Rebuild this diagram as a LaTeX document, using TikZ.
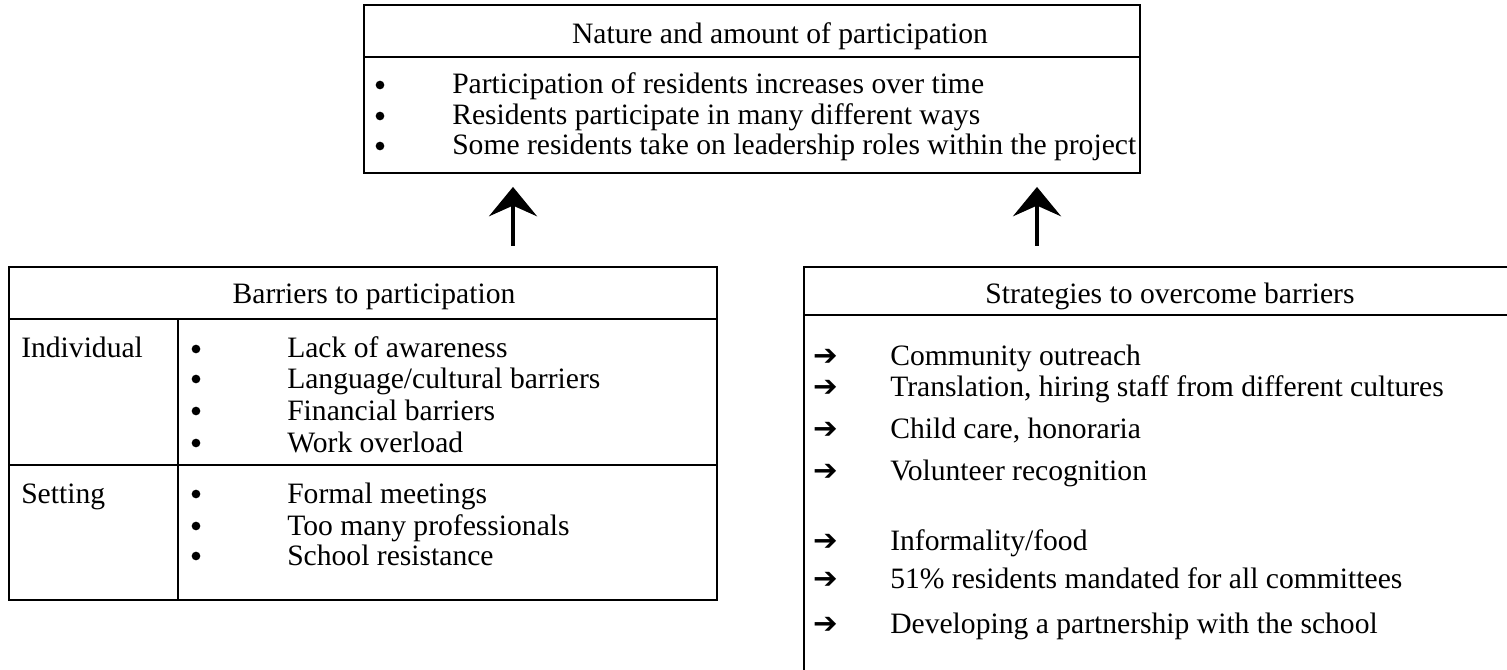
\documentclass[tikz,border=0pt]{standalone}
\usepackage{fontspec}
\setmainfont{Liberation Serif}
\newfontfamily\arrowfont{DejaVu Sans}
\usetikzlibrary{arrows.meta}

\begin{document}
\begin{tikzpicture}[x=0.75pt,y=-0.75pt,
        font=\fontsize{22.2}{26}\selectfont,
        frame/.style={draw,line width=1.2pt,anchor=north west,inner sep=0pt},
        rule/.style={line width=1.2pt},
        txt/.style={anchor=base west,inner sep=0pt},
        head/.style={anchor=base,inner sep=0pt},
        dot/.style={circle,fill,inner sep=0pt,minimum size=6.5pt},
        pointer/.style={anchor=base west,inner sep=0pt,
            font=\arrowfont\fontsize{22}{24}\selectfont},
        uparrow/.style={line width=3pt,shorten >=10pt,
            -{Stealth[length=22pt,width=36pt,inset=8pt]}}]
    % Page is fixed to the pixel frame (x and y are in px)
    \useasboundingbox (0,0) rectangle (1507,670);

    % Top box:
    \node [frame,minimum width=582pt,minimum height=126pt] (nature) at (363,4) {};
    \draw [rule] (363,57) -- (1139,57);
    \node [head] (nature-title) at (780,44) {Nature and amount of participation};
    \foreach \y/\t [count=\i] in {94/Participation of residents increases over time,
            125/Residents participate in many different ways,
            155/Some residents take on leadership roles within the project}{%
        \node [dot] (nature-bul-\i) at (380,\y-9) {};
        \node [txt] (nature-item-\i) at (452,\y) {\t};
    }

    % Left box: barriers, split in two rows
    \node [frame,minimum width=531pt,minimum height=249.75pt] (barriers) at (8,266) {};
    \draw [rule] (8,319) -- (716,319);
    \draw [rule] (8,465) -- (716,465);
    \draw [rule] (178,319) -- (178,599);
    \node [head] (barriers-title) at (374,304) {Barriers to participation};
    \node [txt] (individual) at (21,358) {Individual};
    \node [txt] (setting) at (21,503) {Setting};
    \foreach \y/\t [count=\i] in {358/Lack of awareness,388/{Language/cultural barriers},
            420/Financial barriers,452/Work overload,503/Formal meetings,
            535/Too many professionals,565/School resistance}{%
        \node [dot] (barriers-bul-\i) at (196,\y-9) {};
        \node [txt] (barriers-item-\i) at (287,\y) {\t};
    }

    % Right box: runs off the page on the right and at the bottom
    \node [frame,minimum width=552.75pt,minimum height=306pt] (strategies) at (803,266) {};
    \draw [rule] (803,315) -- (1540,315);
    \node [head] (strategies-title) at (1170,304) {Strategies to overcome barriers};
    \foreach \y/\t [count=\i] in {365/Community outreach,
            397/{Translation, hiring staff from different cultures},
            438/{Child care, honoraria},480/Volunteer recognition,
            550/{Informality/food},588/51\% residents mandated for all committees,
            633/Developing a partnership with the school}{%
        \node [pointer] (strategies-bul-\i) at (813,\y) {➔};
        \node [txt] (strategies-item-\i) at (890,\y) {\t};
    }

    % Arrows up into the top box
    \coordinate (tail-left) at (513,246);
    \coordinate (tail-right) at (1037,246);
    \draw [uparrow] (tail-left) -- (tail-left |- nature.south);
    \draw [uparrow] (tail-right) -- (tail-right |- nature.south);
\end{tikzpicture}
\end{document}
